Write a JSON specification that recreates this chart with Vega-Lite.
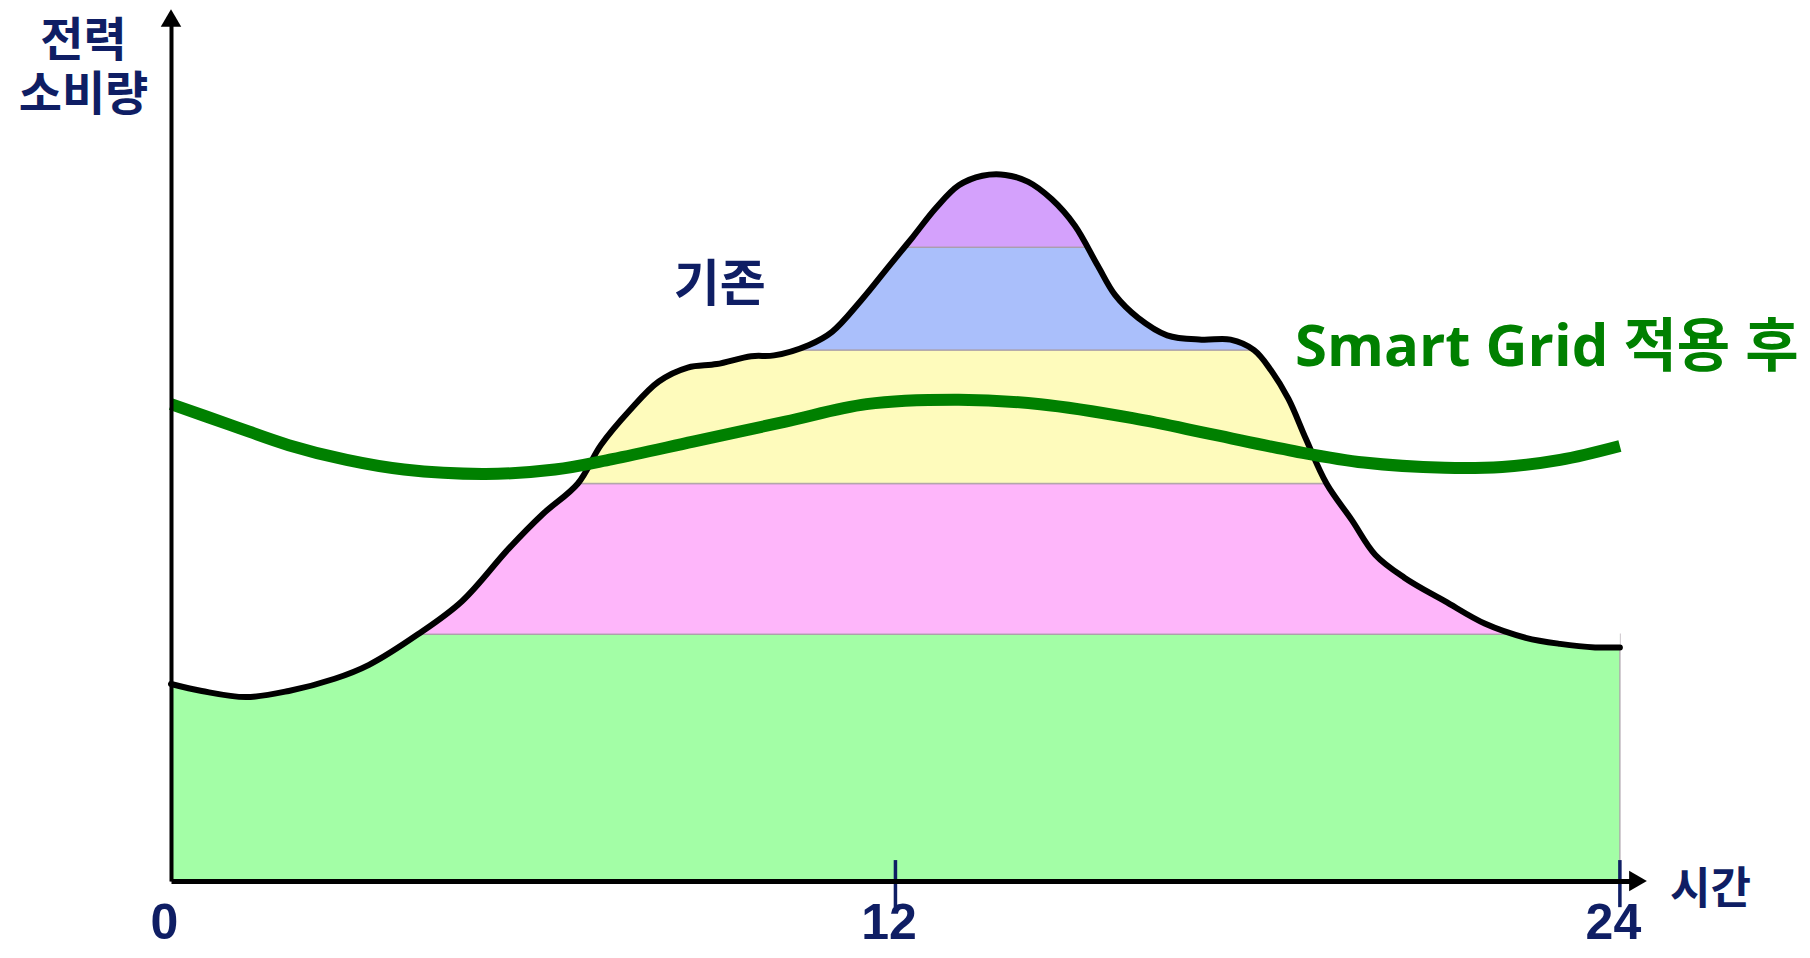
{
  "$schema": "https://vega.github.io/schema/vega-lite/v6.json",
  "width": 1467,
  "height": 863,
  "autosize": "none",
  "padding": {"left": 171, "top": 18, "right": 172, "bottom": 77},
  "background": "white",
  "config": {"view": {"stroke": null}},
  "resolve": {"axis": {"x": "independent", "y": "independent"}},
  "datasets": {
    "curve": [
      {"x": 0.00, "power": 22.6}, {"x": 0.51, "power": 21.8}, {"x": 1.24, "power": 21.1}, {"x": 1.95, "power": 21.8},
      {"x": 2.71, "power": 23.2}, {"x": 3.28, "power": 24.8}, {"x": 4.09, "power": 28.3}, {"x": 4.82, "power": 32.1},
      {"x": 5.59, "power": 38.1}, {"x": 6.16, "power": 42.1}, {"x": 6.74, "power": 45.6}, {"x": 7.12, "power": 50.0},
      {"x": 7.60, "power": 54.0}, {"x": 8.08, "power": 57.3}, {"x": 8.56, "power": 58.9}, {"x": 9.04, "power": 59.3},
      {"x": 9.61, "power": 60.2}, {"x": 9.99, "power": 60.3}, {"x": 10.57, "power": 61.5}, {"x": 10.95, "power": 63.0},
      {"x": 11.43, "power": 66.6}, {"x": 11.90, "power": 70.6}, {"x": 12.29, "power": 73.9}, {"x": 12.67, "power": 77.2},
      {"x": 13.05, "power": 79.8}, {"x": 13.44, "power": 80.9}, {"x": 13.82, "power": 81.0}, {"x": 14.20, "power": 80.2},
      {"x": 14.59, "power": 78.2}, {"x": 14.97, "power": 75.2}, {"x": 15.35, "power": 70.6}, {"x": 15.64, "power": 67.2},
      {"x": 16.02, "power": 64.6}, {"x": 16.50, "power": 62.6}, {"x": 17.07, "power": 62.1}, {"x": 17.55, "power": 62.1},
      {"x": 17.94, "power": 60.9}, {"x": 18.22, "power": 58.6}, {"x": 18.51, "power": 55.3}, {"x": 18.80, "power": 50.7},
      {"x": 19.14, "power": 45.6}, {"x": 19.56, "power": 41.4}, {"x": 19.95, "power": 37.4}, {"x": 20.43, "power": 34.8},
      {"x": 21.10, "power": 32.1}, {"x": 21.77, "power": 29.5}, {"x": 22.44, "power": 27.9}, {"x": 23.01, "power": 27.2},
      {"x": 23.59, "power": 26.8}, {"x": 24.00, "power": 26.8}
    ],
    "smart": [
      {"x": 0.00, "power": 54.7}, {"x": 0.99, "power": 52.3}, {"x": 1.95, "power": 50.0}, {"x": 2.91, "power": 48.3},
      {"x": 3.86, "power": 47.2}, {"x": 5.21, "power": 46.7}, {"x": 6.36, "power": 47.2}, {"x": 7.31, "power": 48.4},
      {"x": 8.65, "power": 50.4}, {"x": 10.18, "power": 52.7}, {"x": 11.52, "power": 54.7}, {"x": 13.05, "power": 55.2},
      {"x": 14.40, "power": 54.7}, {"x": 15.93, "power": 53.1}, {"x": 17.27, "power": 51.2}, {"x": 18.61, "power": 49.3},
      {"x": 19.76, "power": 48.0}, {"x": 21.10, "power": 47.4}, {"x": 22.05, "power": 47.5}, {"x": 23.01, "power": 48.3},
      {"x": 24.00, "power": 49.9}
    ],
    "bands": [
      {"band": "green", "x1": 0, "x2": 24, "lo": 0, "hi": 28.3},
      {"band": "pink", "x1": 3.9, "x2": 22.4, "lo": 28.3, "hi": 45.6},
      {"band": "yellow", "x1": 6.6, "x2": 19.3, "lo": 45.6, "hi": 60.9},
      {"band": "blue", "x1": 10.1, "x2": 18.1, "lo": 60.9, "hi": 72.7},
      {"band": "purple", "x1": 12.0, "x2": 15.4, "lo": 72.7, "hi": 90}
    ],
    "ticks": [{"t": 12}, {"t": 24}]
  },
  "layer": [
    {
      "data": {"name": "bands"},
      "mark": {"type": "rect", "stroke": "#a99ca6", "strokeWidth": 1.5, "strokeOpacity": 0.8},
      "encoding": {
        "x": {"field": "x1", "type": "quantitative",
              "scale": {"domain": [0, 24.3], "nice": false, "zero": false},
              "axis": {"values": [0, 12, 24], "ticks": false, "tickSize": 0, "grid": false,
                       "domain": true, "domainColor": "#000000", "domainWidth": 5,
                       "labelFont": "Liberation Sans", "labelFontWeight": "bold", "labelFontSize": 50,
                       "labelColor": "#0f1e64", "labelPadding": 17, "labelOffset": -7, "labelFlush": false,
                       "title": "시간", "titleFont": "Noto Sans CJK KR", "titleFontWeight": "bold", "titleFontSize": 44,
                       "titleColor": "#0f1e64", "titleX": 1539, "titleY": 9, "titleAlign": "center",
                       "titleBaseline": "middle", "zindex": 1}},
        "x2": {"field": "x2"},
        "y": {"field": "lo", "type": "quantitative",
              "scale": {"domain": [0, 99], "nice": false, "zero": false},
              "axis": {"ticks": false, "labels": false, "grid": false,
                       "domain": true, "domainColor": "#000000", "domainWidth": 4,
                       "title": ["전력", "소비량"], "titleFont": "Noto Sans CJK KR", "titleFontWeight": "bold",
                       "titleFontSize": 47, "titleColor": "#0f1e64", "titleAngle": 0, "titleX": -88, "titleY": 23,
                       "titleAlign": "center", "titleBaseline": "middle", "titleLineHeight": 54, "zindex": 1}},
        "y2": {"field": "hi"},
        "color": {"field": "band", "type": "nominal", "legend": null,
                  "scale": {"domain": ["green", "pink", "yellow", "blue", "purple"],
                            "range": ["#a3fea6", "#feb6fa", "#fefbbc", "#aabffb", "#d4a1fc"]}}
      }
    },
    {
      "data": {"name": "curve"},
      "mark": {"type": "area", "color": "white", "interpolate": "catmull-rom", "opacity": 1},
      "encoding": {
        "x": {"field": "x", "type": "quantitative", "axis": null},
        "y": {"field": "power", "type": "quantitative", "axis": null},
        "y2": {"datum": 92}
      }
    },
    {
      "data": {"name": "curve"},
      "mark": {"type": "line", "color": "#000000", "strokeWidth": 6, "interpolate": "catmull-rom", "strokeJoin": "round", "strokeCap": "round"},
      "encoding": {
        "x": {"field": "x", "type": "quantitative", "axis": null},
        "y": {"field": "power", "type": "quantitative", "axis": null}
      }
    },
    {
      "data": {"name": "smart"},
      "mark": {"type": "line", "color": "#008000", "strokeWidth": 12, "interpolate": "catmull-rom", "strokeCap": "butt"},
      "encoding": {
        "x": {"field": "x", "type": "quantitative", "axis": null},
        "y": {"field": "power", "type": "quantitative", "axis": null}
      }
    },
    {
      "data": {"name": "ticks"},
      "mark": {"type": "rule", "color": "#0f1e64", "strokeWidth": 3.5},
      "encoding": {
        "x": {"field": "t", "type": "quantitative", "axis": null},
        "y": {"datum": 2.4, "type": "quantitative", "axis": null},
        "y2": {"datum": -3.0}
      }
    },
    {
      "data": {"values": [{}]},
      "mark": {"type": "point", "shape": "triangle-up", "filled": true, "size": 420, "color": "#000000", "opacity": 1},
      "encoding": {
        "x": {"datum": 0, "type": "quantitative", "axis": null},
        "y": {"datum": 99, "type": "quantitative", "axis": null}
      }
    },
    {
      "data": {"values": [{}]},
      "mark": {"type": "point", "shape": "triangle-right", "filled": true, "size": 420, "color": "#000000", "opacity": 1},
      "encoding": {
        "x": {"datum": 24.3, "type": "quantitative", "axis": null},
        "y": {"datum": 0, "type": "quantitative", "axis": null}
      }
    },
    {
      "data": {"values": [{}]},
      "mark": {"type": "text", "text": "기존", "font": "Noto Sans CJK KR", "fontWeight": "bold", "fontSize": 50,
               "color": "#0f1e64", "align": "center", "baseline": "middle"},
      "encoding": {
        "x": {"datum": 9.09, "type": "quantitative", "axis": null},
        "y": {"datum": 68.3, "type": "quantitative", "axis": null}
      }
    },
    {
      "data": {"values": [{}]},
      "mark": {"type": "text", "text": "Smart Grid 적용 후", "font": "Open Sans, Noto Sans CJK KR", "fontWeight": "bold",
               "fontSize": 58, "color": "#008000", "align": "left", "baseline": "middle"},
      "encoding": {
        "x": {"datum": 18.62, "type": "quantitative", "axis": null},
        "y": {"datum": 61.0, "type": "quantitative", "axis": null}
      }
    }
  ]
}
